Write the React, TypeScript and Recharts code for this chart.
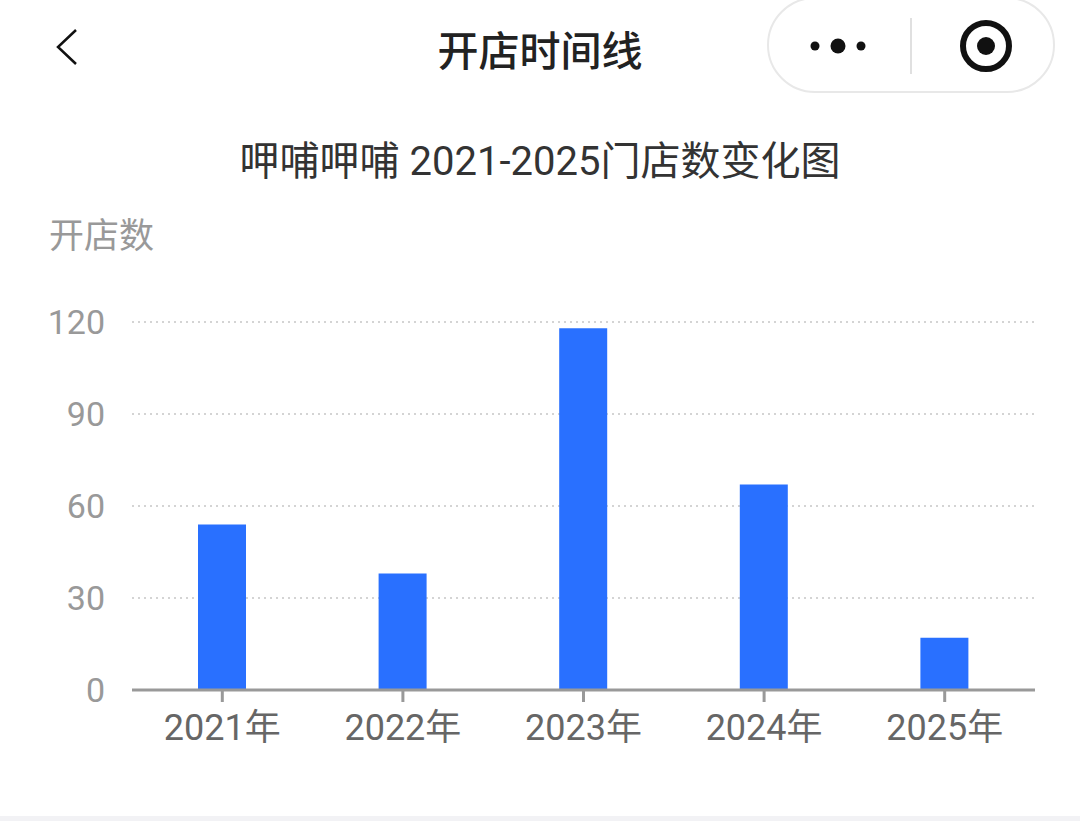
import React from 'react';
import { BarChart, Bar, XAxis, YAxis, CartesianGrid } from 'recharts';

const years = ['2021年', '2022年', '2023年', '2024年', '2025年'];
const storeCounts = [54, 38, 118, 67, 17];
const yTicks = [0, 30, 60, 90, 120];

const data = years.map((year, i) => ({ year, count: storeCounts[i] }));

const numFont = "Roboto, 'Noto Sans CJK SC', sans-serif";

export default function App() {
  return (
    <div
      style={{
        position: 'absolute',
        left: 0,
        top: 0,
        width: 1080,
        height: 821,
        background: '#fff',
        overflow: 'hidden',
        fontFamily: "'Noto Sans CJK SC', sans-serif",
      }}
    >
      {/* top nav bar */}
      <svg width={1080} height={100} style={{ position: 'absolute', left: 0, top: 0 }}>
        <polyline points="76,30 58,47 76,64" fill="none" stroke="#111" strokeWidth={2.5} />
        <rect x={768} y={-2} width={286} height={94} rx={47} fill="#fff" stroke="#e8e8e8" strokeWidth={2} />
        <circle cx={815} cy={46} r={4.5} fill="#111" />
        <circle cx={838} cy={46} r={7.5} fill="#111" />
        <circle cx={861} cy={46} r={4.5} fill="#111" />
        <line x1={911} y1={18} x2={911} y2={74} stroke="#e0e0e0" strokeWidth={2} />
        <circle cx={986} cy={46} r={23} fill="none" stroke="#111" strokeWidth={6} />
        <circle cx={986} cy={46} r={9} fill="#111" />
      </svg>
      <div
        style={{
          position: 'absolute',
          left: 0,
          width: 1080,
          top: 20,
          textAlign: 'center',
          fontSize: 41,
          fontWeight: 500,
          color: '#222',
          lineHeight: '56px',
        }}
      >
        开店时间线
      </div>

      {/* chart title */}
      <div
        style={{
          position: 'absolute',
          left: 0,
          width: 1080,
          top: 134,
          textAlign: 'center',
          fontSize: 40,
          color: '#333',
          lineHeight: '56px',
          fontFamily: numFont,
        }}
      >
        呷哺呷哺 2021-2025门店数变化图
      </div>

      {/* y axis name */}
      <div
        style={{
          position: 'absolute',
          left: 49,
          top: 209,
          fontSize: 35,
          color: '#999',
          lineHeight: '48px',
        }}
      >
        开店数
      </div>

      <div style={{ position: 'absolute', left: 0, top: 0 }}>
        <BarChart
          width={1080}
          height={821}
          data={data}
          margin={{ top: 322, right: 45, bottom: 101, left: 0 }}
        >
          <CartesianGrid
            vertical={false}
            stroke="#d4d4d4"
            strokeWidth={2}
            strokeDasharray="2 4"
          />
          <YAxis
            width={132}
            domain={[0, 120]}
            ticks={yTicks}
            axisLine={false}
            tickLine={false}
            tickSize={0}
            tickMargin={27}
            tick={{ fill: '#999', fontSize: 34, fontFamily: numFont }}
          />
          <XAxis
            dataKey="year"
            height={30}
            axisLine={{ stroke: '#999', strokeWidth: 3 }}
            tickLine={{ stroke: '#999', strokeWidth: 3 }}
            tickSize={12}
            tickMargin={12}
            tick={{ fill: '#666', fontSize: 36, fontFamily: numFont }}
          />
          <Bar dataKey="count" fill="#2970FF" barSize={48} isAnimationActive={false} />
        </BarChart>
      </div>

      <div
        style={{
          position: 'absolute',
          left: 0,
          top: 816,
          width: 1080,
          height: 5,
          background: '#f2f2f5',
        }}
      />
    </div>
  );
}
